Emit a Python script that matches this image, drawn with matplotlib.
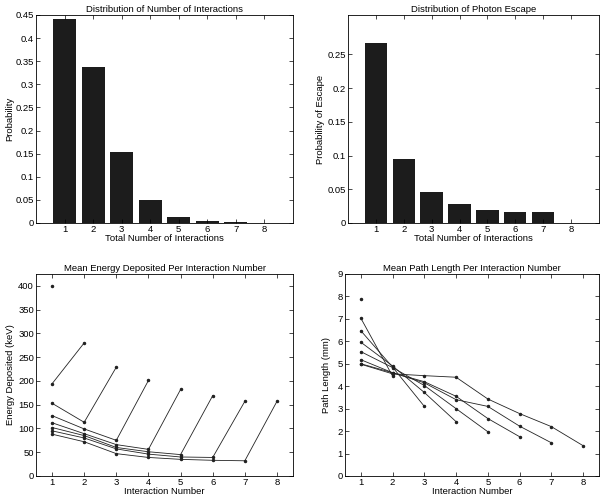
import numpy as np
from matplotlib import pyplot as plt

plt.rcParams['font.family'] = ['Liberation Sans', 'DejaVu Sans']
plt.rcParams['font.size'] = 6.8

# bar data
n_inter = [1, 2, 3, 4, 5, 6, 7, 8]
prob_inter = [0.442, 0.337, 0.153, 0.0505, 0.0134, 0.0037, 0.0012, 0.0002]
prob_escape = [0.267, 0.0955, 0.0465, 0.0282, 0.0188, 0.0158, 0.0158, 0.0]

# mean energy deposited (keV), one list per total number of interactions
energy = [
    [400],
    [194, 280],
    [153, 113, 229],
    [127, 99, 75, 201],
    [112, 89, 66, 56, 182],
    [102, 85, 60, 51, 45, 169],
    [95, 80, 57, 46, 40, 39, 157],
    [88, 72, 47, 39, 35, 33, 32, 157],
]

# mean path length (mm)
path = [
    [7.88],
    [7.03, 4.45],
    [6.47, 4.85, 3.1],
    [5.96, 4.9, 3.72, 2.42],
    [5.54, 4.83, 4.03, 3.0, 1.97],
    [5.18, 4.6, 4.2, 3.55, 2.56, 1.75],
    [5.0, 4.6, 4.15, 3.4, 3.1, 2.22, 1.48],
    [4.98, 4.55, 4.47, 4.4, 3.43, 2.78, 2.2, 1.35],
]

fig = plt.figure(figsize=(6.12, 5.03), dpi=100)
ax1 = fig.add_axes([0.0588, 0.5567, 0.42, 0.4135])
ax2 = fig.add_axes([0.5686, 0.5567, 0.41, 0.4135])
ax3 = fig.add_axes([0.0588, 0.0537, 0.42, 0.4016])
ax4 = fig.add_axes([0.5637, 0.0537, 0.415, 0.4016])

for ax in [ax1, ax2, ax3, ax4]:
    ax.tick_params(direction='in', top=True, right=True, length=3, width=0.5, pad=1.5)
    for s in ax.spines.values():
        s.set_linewidth(0.6)

bar_color = '#1c1c1c'
ax1.bar(n_inter, prob_inter, width=0.8, color=bar_color)
ax1.set_xlim(0, 9)
ax1.set_ylim(0, 0.45)
ax1.set_xticks(n_inter)
ax1.set_yticks(np.arange(0, 0.451, 0.05))
ax1.set_yticklabels(['0', '0.05', '0.1', '0.15', '0.2', '0.25', '0.3', '0.35', '0.4', '0.45'])
ax1.set_title('Distribution of Number of Interactions', fontsize=6.8, pad=2.5)
ax1.set_xlabel('Total Number of Interactions', labelpad=0)
ax1.set_ylabel('Probability')
ax1.yaxis.set_label_coords(-0.086, 0.5)

ax2.bar(n_inter, prob_escape, width=0.8, color=bar_color)
ax2.set_xlim(0, 9)
ax2.set_ylim(0, 0.3085)
ax2.set_xticks(n_inter)
ax2.set_yticks([0, 0.05, 0.1, 0.15, 0.2, 0.25])
ax2.set_yticklabels(['0', '0.05', '0.1', '0.15', '0.2', '0.25'])
ax2.set_title('Distribution of Photon Escape', fontsize=6.8, pad=2.5)
ax2.set_xlabel('Total Number of Interactions', labelpad=0)
ax2.set_ylabel('Probability of Escape')
ax2.yaxis.set_label_coords(-0.092, 0.5)

for e in energy:
    x = np.arange(1, len(e) + 1)
    ax3.plot(x, e, '-', color='#222222', lw=0.6, marker='.', ms=3)
ax3.set_xlim(0.5, 8.5)
ax3.set_ylim(0, 425)
ax3.set_xticks(n_inter)
ax3.set_yticks(np.arange(0, 401, 50))
ax3.set_title('Mean Energy Deposited Per Interaction Number', fontsize=6.8, pad=2.5)
ax3.set_xlabel('Interaction Number', labelpad=0)
ax3.set_ylabel('Energy Deposited (keV)')
ax3.yaxis.set_label_coords(-0.08, 0.5)

for p in path:
    x = np.arange(1, len(p) + 1)
    ax4.plot(x, p, '-', color='#222222', lw=0.6, marker='.', ms=3)
ax4.set_xlim(0.5, 8.5)
ax4.set_ylim(0, 9)
ax4.set_xticks(n_inter)
ax4.set_yticks(np.arange(0, 10, 1))
ax4.set_title('Mean Path Length Per Interaction Number', fontsize=6.8, pad=2.5)
ax4.set_xlabel('Interaction Number', labelpad=0)
ax4.set_ylabel('Path Length (mm)')
ax4.yaxis.set_label_coords(-0.057, 0.5)

plt.savefig('out.png', dpi=100)
